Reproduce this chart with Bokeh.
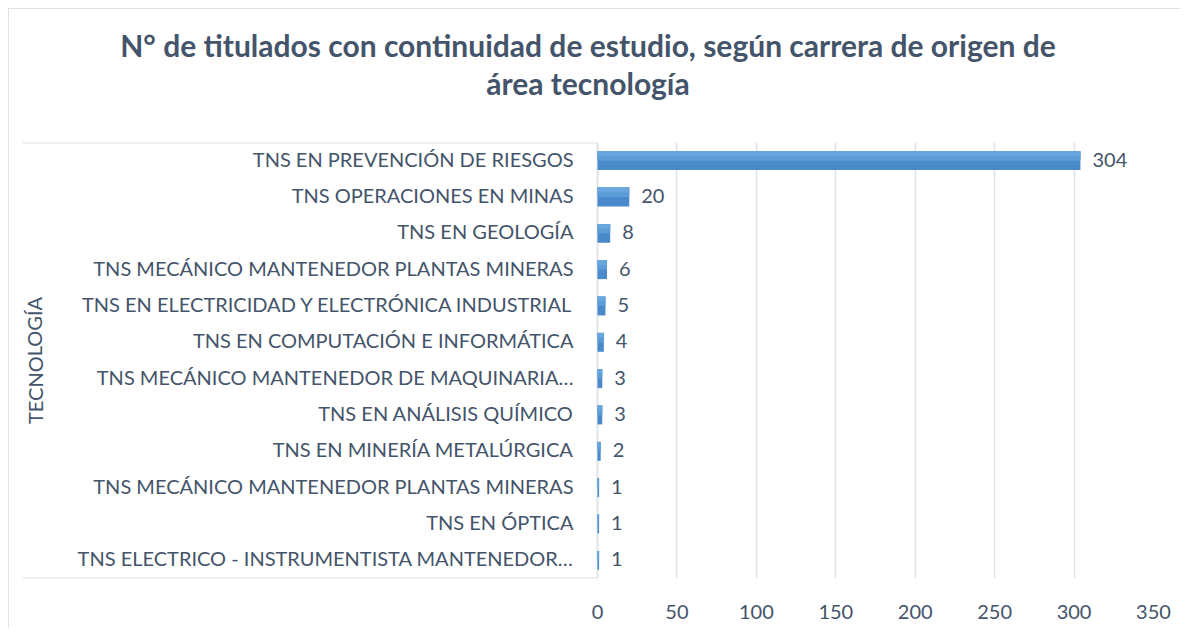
from bokeh.plotting import figure
from bokeh.models import ColumnDataSource, FixedTicker, Range1d, Title
from bokeh.core.properties import value
from bokeh.embed import file_html
from bokeh.resources import INLINE

# ---- data ----
categories = [
    "TNS EN PREVENCIÓN DE RIESGOS",
    "TNS OPERACIONES EN MINAS",
    "TNS EN GEOLOGÍA",
    "TNS MECÁNICO MANTENEDOR PLANTAS MINERAS",
    "TNS EN ELECTRICIDAD Y ELECTRÓNICA INDUSTRIAL",
    "TNS EN COMPUTACIÓN E INFORMÁTICA",
    "TNS MECÁNICO MANTENEDOR DE MAQUINARIA…",
    "TNS EN ANÁLISIS QUÍMICO",
    "TNS EN MINERÍA METALÚRGICA",
    "TNS MECÁNICO MANTENEDOR PLANTAS MINERAS",
    "TNS EN ÓPTICA",
    "TNS ELECTRICO - INSTRUMENTISTA MANTENEDOR…",
]
counts = [304, 20, 8, 6, 5, 4, 3, 3, 2, 1, 1, 1]
x_ticks = [0, 50, 100, 150, 200, 250, 300, 350]
group_label = "TECNOLOGÍA"
title_lines = ["N° de titulados con continuidad de estudio, según carrera de origen de",
               "área tecnología"]

# ---- layout constants (pixels) ----
W, H = 1180, 628
LEFT, RIGHT, TOP, BOTTOM = 13, 36, 133, 59
frame_w = W - LEFT - RIGHT
zero_px = 575                       # distance from frame left to value 0
scale = (frame_w - zero_px) / x_ticks[-1]
x_start = -zero_px / scale
BAR_H = 0.52

TXT = "#44546A"
GRID = "#DDE2E8"
FONT = "Lato"

idx = list(range(len(categories)))
src = ColumnDataSource(dict(y=idx, v=counts, cat=categories,
                            lab=[str(c) for c in counts],
                            zero=[0] * len(counts),
                            y_top=[i - BAR_H / 4 for i in idx],
                            y_top2=[i - BAR_H * 3 / 8 for i in idx]))

p = figure(width=W, height=H, output_backend="svg", toolbar_location=None,
           x_range=Range1d(x_start, x_ticks[-1]),
           y_range=Range1d(len(categories) - 0.5, -0.5),
           min_border_left=LEFT, min_border_right=RIGHT,
           min_border_top=TOP, min_border_bottom=BOTTOM)
p.styles = {
    "padding-left": "9px",
    "padding-top": "9px",
    "background": ("linear-gradient(#DDE2E8, #DDE2E8) 8px 8px / 100% 1px no-repeat, "
                   "linear-gradient(#DDE2E8, #DDE2E8) 8px 8px / 1px 100% no-repeat, white"),
}
p.outline_line_color = None
p.background_fill_color = "white"
p.border_fill_color = "white"

# titles: figure title is outermost; added panels stack outward from the plot
p.title.text = title_lines[0]
p.title.align = "center"
p.title.text_font = FONT
p.title.text_font_size = "30px"
p.title.text_font_style = "bold"
p.title.text_color = TXT
p.title.standoff = 0
# blank spacer between the title block and the plot area (closest to the plot)
spacer = Title(text=" ", align="center", text_font=FONT, text_font_size="30px",
               text_color=TXT, standoff=4)
p.add_layout(spacer, "above")
t2 = Title(text=title_lines[1], align="center", text_font=FONT, text_font_size="30px",
           text_font_style="bold", text_color=TXT, standoff=0)
p.add_layout(t2, "above")

# axes / grid
p.yaxis.visible = False
p.ygrid.grid_line_color = None
p.xgrid.ticker = FixedTicker(ticks=x_ticks)
p.xgrid.grid_line_color = GRID
p.xgrid.grid_line_width = 1.5
p.xaxis.ticker = FixedTicker(ticks=x_ticks)
p.xaxis.axis_line_color = None
p.xaxis.major_tick_line_color = None
p.xaxis.minor_tick_line_color = None
p.xaxis.major_tick_out = 0
p.xaxis.major_label_standoff = 26
p.xaxis.major_label_text_font = FONT
p.xaxis.major_label_text_font_size = "20px"
p.xaxis.major_label_text_color = TXT

# box lines around the category labels
p.segment(x0=[x_start, x_start], x1=[0, 0], y0=[-0.5, len(categories) - 0.5],
          y1=[-0.5, len(categories) - 0.5], line_color=GRID, line_width=2)
p.segment(x0=[0], x1=[0], y0=[-0.5], y1=[len(categories) - 0.5], line_color=GRID, line_width=1.5)

# bars (stacked tones to suggest the original vertical gradient)
p.hbar(y="y", left="zero", right="v", height=BAR_H, source=src,
       fill_color="#4A8ACB", line_color=None)
p.hbar(y="y_top", left="zero", right="v", height=BAR_H / 2, source=src,
       fill_color="#5C9CD7", line_color=None)
p.hbar(y="y_top2", left="zero", right="v", height=BAR_H / 4, source=src,
       fill_color="#6AA6DE", line_color=None)

# value labels
p.text(x="v", y="y", text="lab", source=src, x_offset=12, y_offset=-1,
       text_align="left", text_baseline="middle", text_font=value(FONT),
       text_font_size="20px", text_color=TXT)

# category labels
p.text(x="zero", y="y", text="cat", source=src, x_offset=-24, y_offset=-2,
       text_align="right", text_baseline="middle", text_font=value(FONT),
       text_font_size="20px", text_color=TXT)

# group label
p.text(x=[x_start], y=[(len(categories) - 1) / 2], text=[group_label], x_offset=12,
       angle=1.5708, text_align="center", text_baseline="middle",
       text_font=value(FONT), text_font_size="20px", text_color=TXT)

open("out.html", "w").write(file_html(p, INLINE))
